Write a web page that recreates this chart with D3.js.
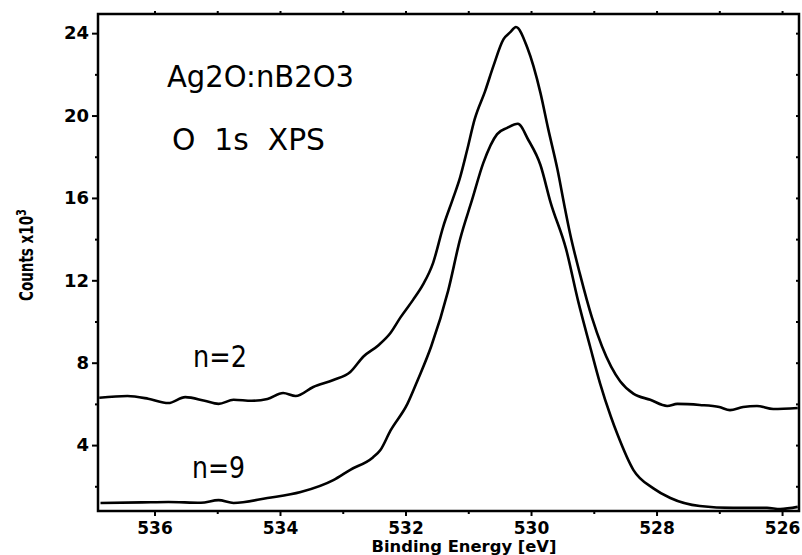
<!DOCTYPE html>
<html>
<head>
<meta charset="utf-8">
<script src="https://cdn.jsdelivr.net/npm/d3@7"></script>
<style>
  body { margin: 0; background: #fff; }
  svg { display: block; }
  .axis path { display: none; }
  .axis line { stroke: #000; stroke-width: 2px; }
  .axis text { font-family: "DejaVu Sans", sans-serif; font-weight: bold; font-size: 18px; fill: #000; }
  .x.axis text { font-size: 17px; }
  .note { font-family: "DejaVu Sans", sans-serif; font-size: 30px; fill: #000; }
</style>
</head>
<body>
<div id="chart"></div>
<script>
var width = 802;
var height = 555;

// binding energy (eV) / counts x10^3
var energyN2 = [536.88, 536.43, 536.1, 535.78, 535.51, 535.2, 534.98, 534.74, 534.45, 534.2,
    533.95, 533.75, 533.47, 533.15, 532.88, 532.67, 532.43, 532.24, 532.08, 531.88,
    531.72, 531.56, 531.4, 531.24, 531.13, 531.02, 530.9, 530.73, 530.6, 530.44,
    530.33, 530.24, 530.06, 529.85, 529.73, 529.58, 529.46, 529.38, 529.22, 529.03,
    528.87, 528.58, 528.37, 528.1, 527.83, 527.67, 527.31, 527.0, 526.83, 526.62,
    526.4, 526.14, 525.75];
var countsN2 = [6.3, 6.38, 6.25, 6.04, 6.33, 6.15, 6.0, 6.2, 6.15, 6.24,
    6.53, 6.38, 6.82, 7.16, 7.55, 8.3, 8.85, 9.44, 10.2, 11.05,
    11.8, 12.85, 14.6, 16.0, 17.0, 18.3, 19.8, 21.2, 22.4, 23.7,
    24.05, 24.3, 23.3, 21.1, 19.4, 17.4, 15.5, 14.3, 12.3, 10.2,
    8.8, 7.1, 6.5, 6.2, 5.9, 6.0, 5.95, 5.85, 5.7, 5.85,
    5.9, 5.75, 5.8];

var energyN9 = [536.86, 536.2, 535.78, 535.26, 534.98, 534.74, 534.2, 533.67, 533.15, 532.88,
    532.52, 532.4, 532.24, 531.97, 531.8, 531.59, 531.32, 531.13, 530.94, 530.76,
    530.54, 530.38, 530.21, 530.04, 529.85, 529.69, 529.44, 529.25, 529.06, 528.9,
    528.73, 528.62, 528.37, 528.05, 527.78, 527.31, 526.78, 526.24, 526.03, 525.75];
var countsN9 = [1.19, 1.22, 1.24, 1.2, 1.33, 1.19, 1.43, 1.72, 2.3, 2.8,
    3.4, 3.76, 4.7, 6.0, 7.2, 8.8, 11.5, 14.0, 15.9, 17.7,
    19.1, 19.4, 19.6, 18.8, 17.6, 15.8, 13.5, 11.0, 8.8, 7.0,
    5.4, 4.5, 2.8, 1.9, 1.43, 1.04, 0.95, 0.95, 0.9, 1.0];

var xMajor = [536, 534, 532, 530, 528, 526];
var xMinor = [535, 533, 531, 529, 527];
var yMajor = [4, 8, 12, 16, 20, 24];
var yMinor = [2, 6, 10, 14, 18, 22];

var xDomain = [536.9, 525.73];
var yDomain = [0.8, 24.93];

var xScale = d3.scaleLinear().domain(xDomain).range([98, 799]);
var yScale = d3.scaleLinear().domain(yDomain).range([511, 14]);

var svg = d3.select("#chart").append("svg")
    .attr("width", width)
    .attr("height", height);

/* axes */
svg.append("g")
    .attr("class", "x axis")
    .attr("transform", `translate(0, ${yScale(yDomain[0])})`)
    .call(d3.axisBottom(xScale).tickValues(xMajor).tickSize(5).tickPadding(6).tickFormat(d3.format("d")));
svg.append("g")
    .attr("class", "axis")
    .attr("transform", `translate(0, ${yScale(yDomain[0])})`)
    .call(d3.axisBottom(xScale).tickValues(xMinor).tickSize(3).tickFormat(""));
svg.append("g")
    .attr("class", "axis")
    .attr("transform", `translate(0, ${yScale(yDomain[1])})`)
    .call(d3.axisTop(xScale).tickValues(xMajor.concat(xMinor)).tickSize(3).tickFormat(""));

svg.append("g")
    .attr("class", "axis")
    .attr("transform", `translate(${xScale(xDomain[0])}, 0)`)
    .call(d3.axisLeft(yScale).tickValues(yMajor).tickSize(6).tickPadding(3).tickFormat(d3.format("d")));
svg.append("g")
    .attr("class", "axis")
    .attr("transform", `translate(${xScale(xDomain[0])}, 0)`)
    .call(d3.axisLeft(yScale).tickValues(yMinor).tickSize(3).tickFormat(""));
svg.append("g")
    .attr("class", "axis")
    .attr("transform", `translate(${xScale(xDomain[1])}, 0)`)
    .call(d3.axisLeft(yScale).tickValues(yMajor.concat(yMinor)).tickSize(3).tickFormat(""));

/* frame */
svg.append("rect")
    .attr("x", xScale(xDomain[0]))
    .attr("y", yScale(yDomain[1]))
    .attr("width", xScale(xDomain[1]) - xScale(xDomain[0]))
    .attr("height", yScale(yDomain[0]) - yScale(yDomain[1]))
    .attr("fill", "none")
    .attr("stroke", "#000")
    .attr("stroke-width", 2.5);

/* spectra */
var line = d3.line()
    .x(d => xScale(d[0]))
    .y(d => yScale(d[1]))
    .curve(d3.curveMonotoneX);

[[energyN2, countsN2], [energyN9, countsN9]].forEach(function(s) {
    svg.append("path")
        .datum(d3.zip(s[0], s[1]))
        .attr("d", line)
        .attr("fill", "none")
        .attr("stroke", "#000")
        .attr("stroke-width", 2.6)
        .attr("stroke-linejoin", "round");
});

/* labels */
svg.append("text").attr("class", "note")
    .attr("x", 167).attr("y", 87)
    .attr("textLength", 187).attr("lengthAdjust", "spacingAndGlyphs")
    .text("Ag2O:nB2O3");
svg.append("text").attr("class", "note")
    .attr("x", 172).attr("y", 150)
    .attr("xml:space", "preserve")
    .attr("textLength", 153).attr("lengthAdjust", "spacingAndGlyphs")
    .text("O  1s  XPS");
svg.append("text").attr("class", "note")
    .attr("x", 193).attr("y", 367)
    .attr("textLength", 54).attr("lengthAdjust", "spacingAndGlyphs")
    .text("n=2");
svg.append("text").attr("class", "note")
    .attr("x", 192).attr("y", 478)
    .attr("textLength", 53).attr("lengthAdjust", "spacingAndGlyphs")
    .text("n=9");

svg.append("text")
    .attr("x", 464).attr("y", 552)
    .attr("text-anchor", "middle")
    .style("font-family", "DejaVu Sans, sans-serif")
    .style("font-weight", "bold")
    .style("font-size", "15px")
    .attr("textLength", 185).attr("lengthAdjust", "spacingAndGlyphs")
    .text("Binding Energy [eV]");

var yTitle = svg.append("text")
    .attr("transform", "translate(33, 255) rotate(-90)")
    .attr("text-anchor", "middle")
    .style("font-family", "DejaVu Sans, sans-serif")
    .style("font-weight", "bold")
    .style("font-size", "19px")
    .attr("textLength", 92).attr("lengthAdjust", "spacingAndGlyphs");
yTitle.append("tspan").text("Counts x10");
yTitle.append("tspan").attr("dy", -7).style("font-size", "14px").text("3");
</script>
</body>
</html>
